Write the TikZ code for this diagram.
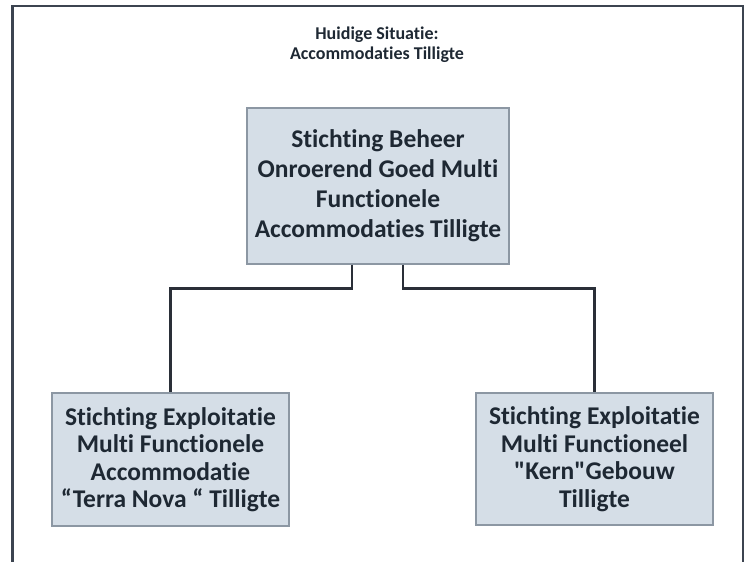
\documentclass[tikz,border=0pt]{standalone}
\usepackage{fontspec}
\setmainfont{Carlito}[Ligatures={TeXOff,NoCommon}]
\usetikzlibrary{calc}
\definecolor{txt}{HTML}{1E2833}
\definecolor{boxfill}{HTML}{D5DEE7}
\definecolor{boxline}{HTML}{8C97A3}
\definecolor{frame}{HTML}{3C4450}
\definecolor{conncol}{HTML}{2A2F38}
\tikzset{
  orgbox/.style={draw=boxline, line width=1.3pt, fill=boxfill, text=txt, align=center, inner sep=0pt, font=\bfseries},
  conn/.style={draw=conncol, line width=2.6pt},
}
\begin{document}
\begin{tikzpicture}[x=1pt,y=-1pt]
\useasboundingbox (0,0) rectangle (748,562);
\fill[white] (0,0) rectangle (748,562);
\draw[frame, line width=2.6pt] (12.7,564) -- (12.7,6) -- (743,6) -- (743,564);
\node[text=txt, align=center, font=\bfseries\fontsize{18}{20}\selectfont] (title) at (377,45) {Huidige Situatie:\\Accommodaties Tilligte};
\node[orgbox, minimum width=262pt, minimum height=156pt, font=\bfseries\fontsize{25.5}{30}\selectfont] (top) at (378,186)
  {Stichting Beheer\\Onroerend Goed Multi\\Functionele\\Accommodaties Tilligte};
\node[orgbox, minimum width=237pt, minimum height=133pt, font=\bfseries\fontsize{25.5}{27.5}\selectfont] (left) at (170.5,459.5)
  {Stichting Exploitatie\\Multi Functionele\\Accommodatie\\“Terra Nova “ Tilligte};
\node[orgbox, minimum width=237pt, minimum height=132pt, font=\bfseries\fontsize{25.5}{27.5}\selectfont] (right) at (594.5,459)
  {Stichting Exploitatie\\Multi Functioneel\\"Kern"Gebouw\\Tilligte};
\draw[conn] ([xshift=-26pt]top.south) |- ([yshift=104pt]left.north) -- (left.north);
\draw[conn] ([xshift=25pt]top.south) |- ([yshift=104pt]right.north) -- (right.north);
\end{tikzpicture}
\end{document}
